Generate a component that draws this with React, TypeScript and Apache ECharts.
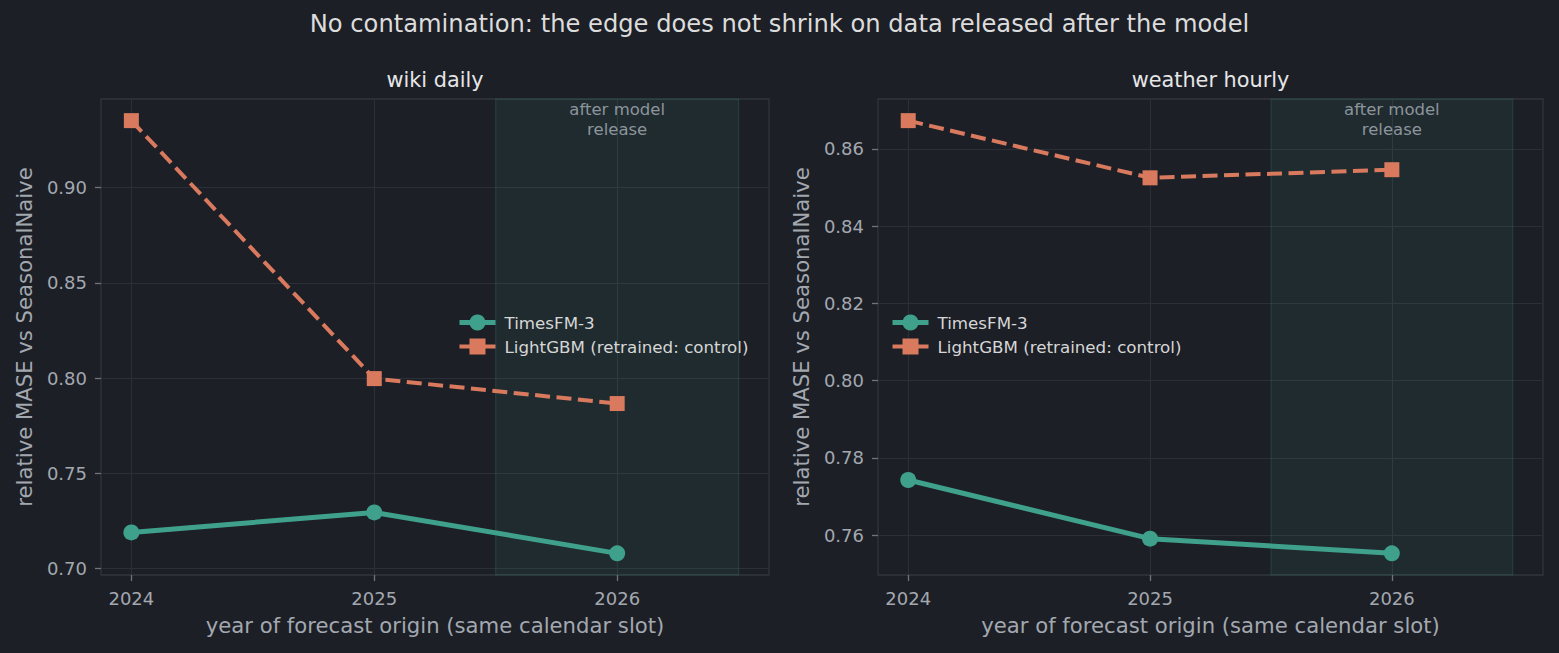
import React, { useEffect, useRef } from "react";
import * as echarts from "echarts";

const years = [2024, 2025, 2026];
const wikiTimesFM = [0.7189, 0.7294, 0.7079];
const wikiLightGBM = [0.9352, 0.7997, 0.7866];
const weatherTimesFM = [0.7743, 0.7591, 0.7553];
const weatherLightGBM = [0.8673, 0.8525, 0.8546];
const wikiTicks = [0.7, 0.75, 0.8, 0.85, 0.9];
const weatherTicks = [0.76, 0.78, 0.8, 0.82, 0.84, 0.86];
const releaseSpan = [2025.5, 2026.5];
const seriesNames = ["TimesFM-3", "LightGBM (retrained: control)"];
const panelTitles = ["wiki daily", "weather hourly"];
const suptitle = "No contamination: the edge does not shrink on data released after the model";
const xLabel = "year of forecast origin (same calendar slot)";
const yLabel = "relative MASE vs SeasonalNaive";

const BG = "#1c1f26";
const TEAL = "#3fa18c";
const ORANGE = "#d97a5e";
const FONT = "DejaVu Sans";

function padRange(vals: number[]): [number, number] {
  const lo = Math.min(...vals);
  const hi = Math.max(...vals);
  const m = (hi - lo) * 0.05;
  return [lo - m, hi + m];
}

const gridsPx = [
  { left: 101, top: 99, width: 668, height: 476 },
  { left: 878, top: 99, width: 665, height: 476 },
];

export default function App() {
  const ref = useRef<HTMLDivElement>(null);
  useEffect(() => {
    document.body.style.margin = "0";
    document.body.style.background = BG;
    const chart = echarts.init(ref.current!, null, { renderer: "svg" });
    const xr = padRange([...years, ...releaseSpan]);
    const yrs = [padRange([...wikiTimesFM, ...wikiLightGBM]), padRange([...weatherTimesFM, ...weatherLightGBM])];
    const ticks = [wikiTicks, weatherTicks];
    const tf = [wikiTimesFM, weatherTimesFM];
    const lg = [wikiLightGBM, weatherLightGBM];

    const grid = gridsPx.map((g) => ({
      ...g,
      show: true,
      borderColor: "#30363d",
      borderWidth: 1.3,
      backgroundColor: "transparent",
      containLabel: false,
    }));

    const xAxis = gridsPx.map((_, i) => ({
      type: "value",
      gridIndex: i,
      min: xr[0],
      max: xr[1],
      name: xLabel,
      nameLocation: "middle",
      nameGap: 40,
      nameTextStyle: { color: "#a3a8b0", fontSize: 21.2, fontFamily: FONT },
      axisLine: { show: false },
      axisTick: { show: true, customValues: years, length: 6, lineStyle: { color: "#70757d", width: 1.3 } },
      axisLabel: {
        customValues: years,
        color: "#a3a8b0",
        fontSize: 18,
        fontFamily: FONT,
        margin: 14,
        formatter: (v: number) => String(Math.round(v)),
      },
      splitLine: { show: true, lineStyle: { color: "#2b3038", width: 1.2 } },
    }));

    const yAxis = gridsPx.map((_, i) => ({
      type: "value",
      gridIndex: i,
      min: yrs[i][0],
      max: yrs[i][1],
      name: yLabel,
      nameLocation: "middle",
      nameGap: 66,
      nameTextStyle: { color: "#a3a8b0", fontSize: 21.2, fontFamily: FONT },
      axisLine: { show: false },
      axisTick: { show: true, customValues: ticks[i], length: 6, lineStyle: { color: "#70757d", width: 1.3 } },
      axisLabel: {
        customValues: ticks[i],
        color: "#a3a8b0",
        fontSize: 18,
        fontFamily: FONT,
        margin: 14,
        formatter: (v: number) => v.toFixed(2),
      },
      splitLine: { show: true, lineStyle: { color: "#2b3038", width: 1.2 } },
    }));

    const series: any[] = [];
    gridsPx.forEach((_, i) => {
      series.push({
        name: seriesNames[0],
        type: "line",
        xAxisIndex: i,
        yAxisIndex: i,
        data: years.map((y, k) => [y, tf[i][k]]),
        symbol: "circle",
        symbolSize: 16,
        itemStyle: { color: TEAL },
        lineStyle: { color: TEAL, width: 5 },
        z: 4,
        emphasis: { disabled: true },
        markArea: {
          silent: true,
          itemStyle: { color: "rgba(63,161,140,0.09)", borderColor: "rgba(63,161,140,0.2)", borderWidth: 1.2 },
          label: {
            show: true,
            position: "insideTop",
            distance: 1,
            formatter: "after model\nrelease",
            color: "#8d949c",
            fontSize: 16.5,
            lineHeight: 20,
            fontFamily: FONT,
            align: "center",
          },
          data: [[{ xAxis: releaseSpan[0] }, { xAxis: releaseSpan[1] }]],
        },
      });
      series.push({
        name: seriesNames[1],
        type: "line",
        xAxisIndex: i,
        yAxisIndex: i,
        data: years.map((y, k) => [y, lg[i][k]]),
        symbol: "rect",
        symbolSize: 15,
        itemStyle: { color: ORANGE },
        lineStyle: { color: ORANGE, width: 4, type: [15, 6.5] },
        z: 3,
        emphasis: { disabled: true },
      });
    });

    const legendPos = [
      { left: 452, top: 309 },
      { left: 885, top: 309 },
    ];
    const legend = legendPos.map((p) => ({
      ...p,
      orient: "vertical",
      data: [
        { name: seriesNames[0], lineStyle: { width: 5, color: TEAL } },
        { name: seriesNames[1], lineStyle: { width: 4, color: ORANGE, type: "solid" } },
      ],
      itemWidth: 36,
      itemHeight: 20,
      itemGap: 7,
      selectedMode: false,
      textStyle: { color: "#d6d6d6", fontSize: 16.7, fontFamily: FONT, padding: [0, 0, 0, 4] },
    }));

    const graphic: any[] = [
      {
        type: "text",
        x: 779.5,
        y: 24,
        style: { text: suptitle, fill: "#dcdcdc", font: `24.2px '${FONT}'`, textAlign: "center", textVerticalAlign: "middle" },
      },
      ...gridsPx.map((g, i) => ({
        type: "text",
        x: g.left + g.width / 2,
        y: 80,
        style: { text: panelTitles[i], fill: "#e6e6e6", font: `20.8px '${FONT}'`, textAlign: "center", textVerticalAlign: "middle" },
      })),
    ];

    chart.setOption({
      animation: false,
      backgroundColor: BG,
      textStyle: { fontFamily: FONT },
      grid,
      xAxis,
      yAxis,
      series,
      legend,
      graphic,
    });
    return () => chart.dispose();
  }, []);
  return <div ref={ref} style={{ position: "absolute", left: 0, top: 0, width: 1559, height: 653 }} />;
}
